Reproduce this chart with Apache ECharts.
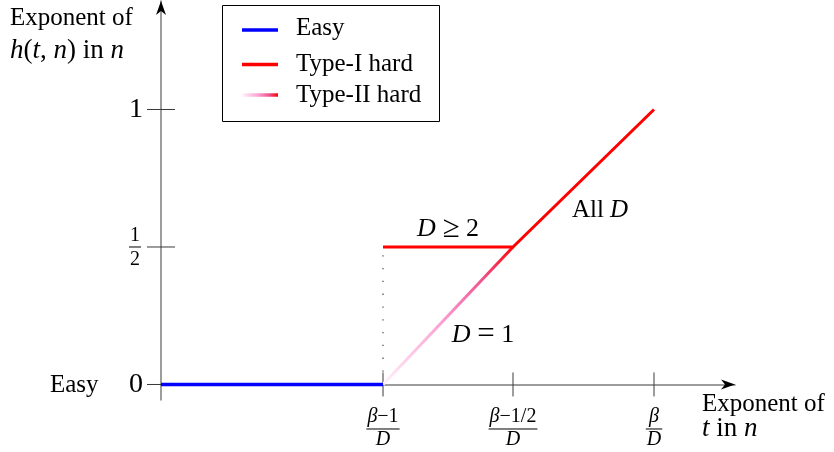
<!DOCTYPE html>
<html>
<head>
<meta charset="utf-8">
<script src="https://cdn.jsdelivr.net/npm/echarts@6/dist/echarts.min.js"></script>
<style>
  html, body { margin: 0; padding: 0; background: #fff; }
  #chart { width: 834px; height: 452px; }
</style>
</head>
<body>
<div id="chart"></div>
<script>
// x axis: exponent of t in n; tick positions and their fraction labels
const xTickValues = [2.22, 3.52, 4.93];
const xTickNumerators = ['β−1', 'β−1/2', 'β'];
const xTickDenominator = 'D';

// y axis: exponent of h(t, n) in n
const yTickValues = [0, 0.5, 1];
const yTickLabels = ['0', '1/2', '1'];

// regimes
const seriesNames = ['Easy', 'Type-I hard', 'Type-II hard'];
const easyPoints = [[0, 0], [2.22, 0]];
const typeIPoints = [[2.22, 0.5], [3.52, 0.5], [4.93, 1]];
const typeIIPoints = [[2.22, 0], [3.52, 0.5]];

// axis extents
const X_MIN = 0, X_MAX = 5.74;
const Y_MIN = -0.0564, Y_MAX = 1.3945;

const FONT = '"Liberation Serif", "Times New Roman", serif';
const AXIS_GRAY = '#7c7c7c';
const TICK_COLOR = '#3a3a3a';
const BLUE = '#0000ff';
const RED = '#ff0000';
const pinkStops = [
  { offset: 0, color: '#fff4fb' },
  { offset: 0.45, color: '#fca0d2' },
  { offset: 0.75, color: '#ee5590' },
  { offset: 1, color: '#ff0000' }
];

// width of a small math string (β and D set in italics)
const mctx = document.createElement('canvas').getContext('2d');
function mathWidth(str, size) {
  let w = 0;
  for (const ch of str) {
    mctx.font = (/[βD]/.test(ch) ? 'italic ' : '') + size + 'px ' + FONT;
    w += mctx.measureText(ch).width;
  }
  return w;
}
function mathRich(str) {
  return str.replace(/([βD])/g, '{i|$1}');
}
function richStyle(size) {
  return {
    i: { fontStyle: 'italic', fontSize: size, fontFamily: FONT, fill: '#000' },
    o: { fontSize: Math.round(size * 1.2), fontFamily: FONT, fill: '#000' }
  };
}

// stacked fraction: numerator, bar, denominator centred on (cx, barY)
function fraction(cx, barY, num, den, size, numDy, denDy) {
  const w = Math.max(mathWidth(num, size), mathWidth(den, size)) + 2;
  return [
    { type: 'text', x: cx, y: barY + numDy, style: {
      text: mathRich(num), rich: richStyle(size), fontSize: size, fontFamily: FONT,
      fill: '#000', align: 'center', verticalAlign: 'middle', textAlign: 'center', textVerticalAlign: 'middle' } },
    { type: 'line', shape: { x1: cx - w / 2, y1: barY, x2: cx + w / 2, y2: barY },
      style: { stroke: '#000', lineWidth: 1 } },
    { type: 'text', x: cx, y: barY + denDy, style: {
      text: mathRich(den), rich: richStyle(size), fontSize: size, fontFamily: FONT,
      fill: '#000', align: 'center', verticalAlign: 'middle', textAlign: 'center', textVerticalAlign: 'middle' } }
  ];
}

function renderXTick(params, api) {
  const p = api.coord([api.value(0), 0]);
  const i = params.dataIndex;
  return {
    type: 'group',
    children: [
      { type: 'line', shape: { x1: p[0], y1: p[1] - 12, x2: p[0], y2: p[1] + 12 },
        style: { stroke: TICK_COLOR, lineWidth: 1 } }
    ].concat(fraction(p[0], p[1] + 44.5, xTickNumerators[i], xTickDenominator, 20, -12.5, 11))
  };
}

function renderYTick(params, api) {
  const p = api.coord([0, api.value(1)]);
  const label = yTickLabels[params.dataIndex];
  const children = [
    { type: 'line', shape: { x1: p[0] - 14, y1: p[1], x2: p[0] + 14, y2: p[1] },
      style: { stroke: TICK_COLOR, lineWidth: 1 } }
  ];
  if (label.indexOf('/') >= 0) {
    const parts = label.split('/');
    children.push(...fraction(p[0] - 26, p[1], parts[0], parts[1], 20, -11.5, 12.5));
  } else {
    children.push({ type: 'text', x: p[0] - 18, y: p[1], style: {
      text: label, fontSize: 28, fontFamily: FONT, fill: '#000',
      align: 'right', verticalAlign: 'middle', textAlign: 'right', textVerticalAlign: 'middle' } });
  }
  return { type: 'group', children };
}

// arrowheads at the far ends of both axes
function renderArrow(params, api) {
  const p = api.coord([api.value(0), api.value(1)]);
  const pts = params.dataIndex === 0
    ? [[p[0], p[1]], [p[0] - 14, p[1] - 5], [p[0] - 10, p[1]], [p[0] - 14, p[1] + 5]]
    : [[p[0], p[1]], [p[0] - 5, p[1] + 14], [p[0], p[1] + 10], [p[0] + 5, p[1] + 14]];
  return { type: 'polygon', shape: { points: pts }, style: { fill: '#000' } };
}

function text(x, y, str, size, extra) {
  return Object.assign({
    type: 'text', x: x, y: y,
    style: { text: str, rich: richStyle(size), fontSize: size, fontFamily: FONT, fill: '#000',
      align: 'left', verticalAlign: 'middle', textAlign: 'left', textVerticalAlign: 'middle' }
  }, extra || {});
}
function ctext(x, y, str, size) {
  const t = text(x, y, str, size);
  t.style.align = 'center'; t.style.textAlign = 'center';
  return t;
}

const legendRows = [30, 64.5, 95];
const legendTextRows = [28.5, 64, 95.5];
const legendStrokes = [BLUE, RED, new echarts.graphic.LinearGradient(242, 0, 278, 0, pinkStops, true)];

const graphic = [
  // legend box
  { type: 'rect', shape: { x: 222.5, y: 5.5, width: 217, height: 116 },
    style: { fill: '#fff', stroke: '#000', lineWidth: 1 }, z: 10 }
];
seriesNames.forEach((name, i) => {
  graphic.push({ type: 'line', shape: { x1: 242, y1: legendRows[i], x2: 278, y2: legendRows[i] },
    style: { stroke: legendStrokes[i], lineWidth: 3.5 }, z: 11 });
  graphic.push(text(296, legendTextRows[i], name, 25, { z: 11 }));
});
graphic.push(
  text(10, 18.5, 'Exponent of', 25),
  text(10, 51, '{i|h}({i|t}, {i|n}) in {i|n}', 27),
  text(702, 404.5, 'Exponent of', 25),
  text(702, 428.5, '{i|t} in {i|n}', 27),
  text(50, 385.5, 'Easy', 25),
  ctext(448, 229, '{i|D} {o|≥} 2', 26),
  ctext(600, 210, 'All {i|D}', 25),
  ctext(483, 335, '{i|D} {o|=} 1', 26)
);

const chart = echarts.init(document.getElementById('chart'), null, { renderer: 'canvas' });
chart.setOption({
  animation: false,
  backgroundColor: '#fff',
  textStyle: { fontFamily: FONT },
  grid: { left: 161, right: 99, top: 1, bottom: 52, outerBoundsMode: 'none' },
  xAxis: {
    type: 'value', min: X_MIN, max: X_MAX,
    axisLine: { show: true, onZero: true, lineStyle: { color: AXIS_GRAY, width: 1.5 } },
    axisTick: { show: false }, axisLabel: { show: false }, splitLine: { show: false }
  },
  yAxis: {
    type: 'value', min: Y_MIN, max: Y_MAX,
    axisLine: { show: true, onZero: true, lineStyle: { color: AXIS_GRAY, width: 1.5 } },
    axisTick: { show: false }, axisLabel: { show: false }, splitLine: { show: false }
  },
  graphic: graphic,
  series: [
    {
      type: 'custom', name: 'xTicks', coordinateSystem: 'cartesian2d', z: 1, clip: false,
      data: xTickValues.map(v => [v, 0]), renderItem: renderXTick, silent: true
    },
    {
      type: 'custom', name: 'yTicks', coordinateSystem: 'cartesian2d', z: 1, clip: false,
      data: yTickValues.map(v => [0, v]), renderItem: renderYTick, silent: true
    },
    {
      type: 'custom', name: 'arrows', coordinateSystem: 'cartesian2d', z: 1, clip: false,
      data: [[X_MAX, 0], [0, Y_MAX]], renderItem: renderArrow, silent: true
    },
    {
      // dotted guide under the start of the Type-I segment
      type: 'line', name: 'guide', silent: true, showSymbol: false, z: 2,
      data: [typeIIPoints[0], typeIPoints[0]],
      lineStyle: { color: '#555', width: 1.3, type: [1.3, 11.5] }
    },
    {
      type: 'line', name: seriesNames[2], showSymbol: false, z: 3,
      data: typeIIPoints,
      lineStyle: { width: 3, color: new echarts.graphic.LinearGradient(0, 1, 1, 0, pinkStops) }
    },
    {
      type: 'line', name: seriesNames[1], showSymbol: false, z: 4,
      data: typeIPoints,
      lineStyle: { width: 3, color: RED }
    },
    {
      type: 'line', name: seriesNames[0], showSymbol: false, z: 4,
      data: easyPoints,
      lineStyle: { width: 3.3, color: BLUE }
    }
  ]
});
</script>
</body>
</html>
